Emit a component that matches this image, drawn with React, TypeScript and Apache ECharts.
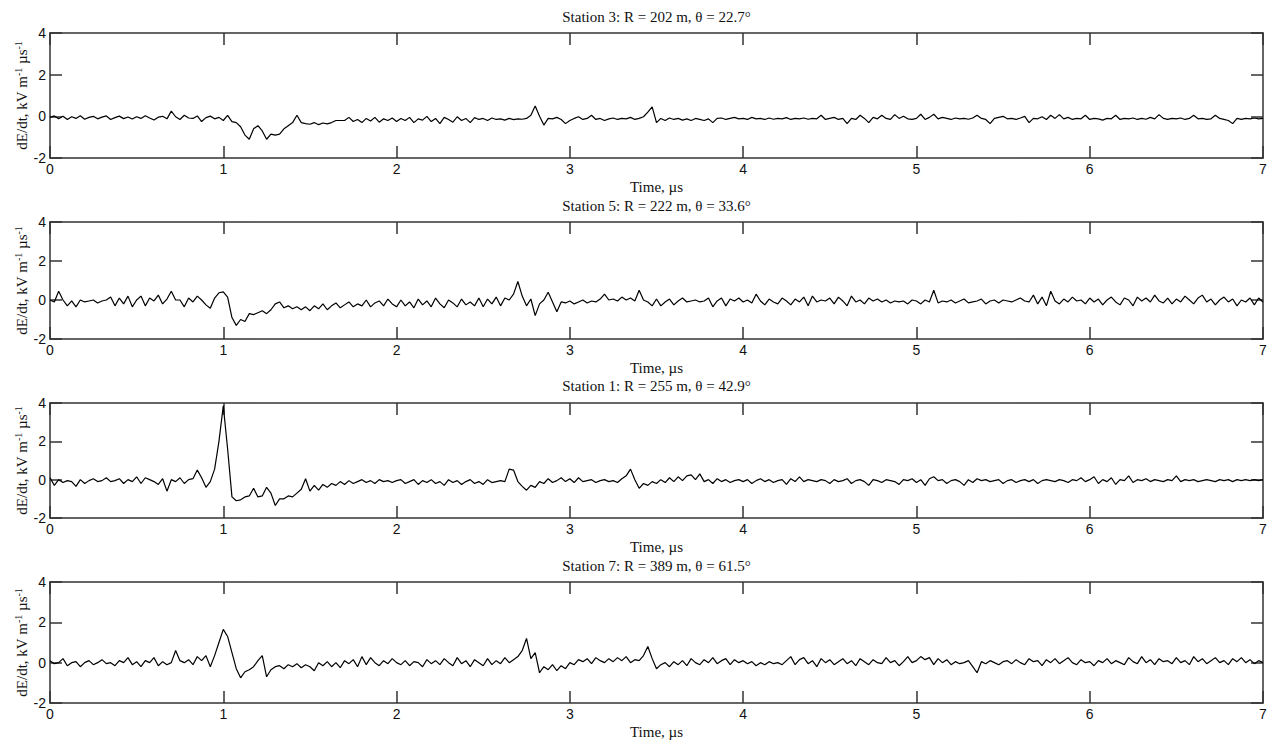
import React, { useEffect, useRef } from "react";
import * as echarts from "echarts";

// Sampling step of the transcribed traces (µs)
const TIME_STEP = 0.025;
const X_TICKS = [0, 1, 2, 3, 4, 5, 6, 7];
const Y_TICKS = [-2, 0, 2, 4];
const X_LABEL = "Time, µs";
const TITLES = [
  "Station 3: R = 202 m, θ = 22.7°",
  "Station 5: R = 222 m, θ = 33.6°",
  "Station 1: R = 255 m, θ = 42.9°",
  "Station 7: R = 389 m, θ = 61.5°",
];

// dE/dt, kV/m/µs — one row per 0.5 µs
const STATION3 = [
  -0.05, 0.02, -0.12, 0.0, -0.15, -0.02, -0.1, 0.03, -0.14, -0.05, 0.0, -0.12, -0.04, 0.02, -0.15, -0.06, 0.01, -0.11, -0.03, -0.13,
  -0.02, -0.1, 0.03, -0.08, -0.18, -0.04, 0.0, -0.12, 0.25, -0.02, -0.15, 0.05, -0.08, -0.1, 0.02, -0.25, -0.06, 0.01, -0.12, -0.05,
  -0.2, 0.05, -0.25, -0.3, -0.5, -0.9, -1.1, -0.6, -0.45, -0.7, -1.1, -0.85, -0.9, -0.85, -0.6, -0.45, -0.3, 0.05, -0.3, -0.35,
  -0.38, -0.3, -0.4, -0.32, -0.36, -0.3, -0.2, -0.2, -0.2, -0.05, -0.25, -0.15, -0.3, -0.1, -0.22, -0.05, -0.28, -0.12, -0.2, -0.08,
  -0.25, -0.1, -0.2, -0.05, -0.3, -0.12, -0.18, 0.0, -0.25, -0.1, -0.35, -0.05, -0.15, -0.28, -0.02, -0.2, -0.1, -0.3, -0.06, -0.15,
  -0.1, -0.2, -0.08, -0.15, -0.12, -0.18, -0.1, -0.16, -0.12, -0.14, -0.1, 0.05, 0.5, 0.0, -0.42, -0.1, -0.12, -0.05, -0.15, -0.35,
  -0.2, -0.1, -0.02, -0.15, -0.1, 0.05, -0.15, -0.1, -0.2, -0.12, -0.08, -0.15, -0.1, -0.12, -0.05, -0.15, -0.1, -0.02, 0.2, 0.45,
  -0.3, -0.1, -0.2, -0.08, -0.15, -0.1, -0.18, -0.12, -0.2, -0.1, -0.15, -0.2, -0.12, -0.3, -0.1, -0.08, -0.15, -0.1, -0.05, -0.12,
  -0.1, -0.15, -0.05, -0.12, -0.1, -0.15, -0.08, -0.14, -0.1, -0.12, -0.06, -0.15, -0.1, -0.12, -0.08, -0.14, -0.1, -0.12, 0.05, -0.15,
  -0.1, -0.05, -0.15, -0.1, -0.35, -0.1, -0.15, 0.05, -0.1, -0.3, -0.05, -0.12, 0.05, -0.1, -0.15, 0.08, -0.1, 0.0, -0.12, -0.15,
  -0.1, 0.1, -0.15, -0.05, 0.1, -0.12, -0.05, -0.1, -0.15, -0.08, -0.12, -0.1, -0.14, -0.08, 0.05, -0.1, -0.15, -0.35, -0.1, -0.05,
  0.0, -0.12, -0.1, -0.15, -0.08, 0.0, -0.3, -0.1, -0.12, -0.02, -0.15, 0.05, -0.1, 0.08, -0.12, -0.05, -0.15, -0.1, -0.12, 0.05,
  -0.15, -0.1, -0.12, -0.18, -0.1, -0.12, 0.05, -0.15, -0.1, -0.12, -0.08, -0.15, -0.1, -0.14, -0.05, -0.12, 0.08, -0.1, -0.15, -0.1,
  -0.12, -0.08, -0.15, -0.1, 0.05, -0.12, -0.1, -0.15, -0.12, 0.05, -0.1, -0.15, -0.2, -0.35, -0.1, -0.15, -0.1, -0.12, -0.08, -0.12,
  -0.1,
];

const STATION5 = [
  0.0, -0.1, 0.45, 0.0, -0.3, -0.05, -0.35, 0.0, -0.1, -0.05, 0.0, -0.15, -0.05, 0.0, 0.15, -0.3, 0.1, -0.2, 0.2, -0.35,
  0.0, 0.2, -0.3, 0.1, -0.05, 0.25, -0.2, 0.05, 0.45, 0.0, 0.0, -0.35, 0.1, -0.1, 0.2, 0.0, -0.25, -0.42, 0.1, 0.37,
  0.42, 0.15, -0.9, -1.3, -1.0, -1.1, -0.7, -0.75, -0.65, -0.55, -0.7, -0.5, -0.2, -0.1, -0.4, -0.3, -0.45, -0.35, -0.5, -0.35,
  -0.55, -0.3, -0.45, -0.2, -0.5, -0.3, -0.15, -0.4, -0.25, -0.1, -0.35, -0.2, -0.3, 0.0, -0.35, -0.15, -0.05, -0.3, 0.05, -0.2,
  -0.35, 0.0, -0.3, -0.1, -0.4, 0.05, -0.25, -0.05, -0.35, 0.1, -0.2, -0.4, 0.0, -0.15, -0.35, 0.05, -0.25, -0.1, -0.3, 0.1,
  -0.35, 0.05, -0.2, 0.15, -0.3, 0.1, 0.0, 0.3, 0.95, 0.2, -0.3, 0.05, -0.8, -0.2, 0.0, 0.4, -0.1, -0.6, -0.1, -0.15,
  -0.05, -0.2, -0.1, 0.0, -0.15, -0.05, -0.1, 0.05, 0.3, 0.0, 0.05, -0.05, 0.15, 0.0, 0.1, -0.05, 0.5, 0.0, -0.1, -0.3,
  0.05, -0.3, -0.1, 0.05, -0.25, -0.05, 0.1, -0.1, -0.05, 0.0, -0.1, -0.05, 0.1, -0.35, -0.05, 0.1, -0.3, 0.05, -0.05, 0.1,
  -0.1, 0.0, -0.15, 0.3, -0.05, -0.25, 0.05, -0.1, -0.2, 0.1, -0.05, -0.25, 0.05, -0.1, 0.15, -0.3, 0.2, -0.1, 0.0, -0.05,
  0.1, -0.2, 0.15, -0.05, -0.3, 0.2, -0.1, 0.0, -0.2, 0.1, -0.05, 0.05, -0.1, 0.0, -0.15, -0.05, -0.1, -0.05, -0.2, 0.0,
  -0.05, -0.2, 0.0, -0.1, 0.5, -0.15, -0.05, -0.1, 0.0, -0.15, -0.05, 0.05, -0.15, -0.1, -0.05, 0.05, -0.2, -0.05, 0.0, -0.15,
  0.0, -0.05, -0.1, 0.0, 0.1, -0.05, -0.1, 0.25, -0.2, 0.15, -0.3, 0.45, -0.05, -0.2, 0.05, -0.1, 0.15, -0.05, 0.0, -0.2,
  0.1, -0.1, 0.05, -0.25, 0.0, 0.15, -0.1, -0.25, 0.1, 0.0, -0.3, 0.15, -0.05, 0.1, -0.1, 0.25, -0.05, -0.15, 0.1, -0.2,
  0.05, -0.1, 0.2, 0.0, -0.2, 0.1, 0.25, -0.1, 0.05, -0.25, 0.0, 0.15, -0.1, 0.05, -0.3, 0.0, -0.1, 0.1, -0.25, 0.1,
  -0.1,
];

const STATION1 = [
  0.1, -0.3, 0.0, -0.15, -0.05, -0.1, -0.35, 0.0, -0.2, -0.05, 0.05, -0.1, -0.05, 0.1, -0.1, -0.05, 0.05, -0.2, 0.0, -0.1,
  0.15, -0.2, 0.1, 0.0, -0.1, -0.25, 0.05, -0.6, 0.0, -0.1, 0.1, -0.2, 0.0, 0.05, 0.5, 0.1, -0.4, -0.1, 0.55, 2.0,
  3.85, 1.6, -0.9, -1.1, -1.05, -0.9, -0.85, -0.45, -0.9, -0.85, -0.4, -0.7, -1.35, -1.0, -1.0, -0.85, -0.9, -0.7, -0.5, 0.05,
  -0.6, -0.3, -0.55, -0.25, -0.4, -0.2, -0.3, -0.1, -0.25, -0.05, -0.2, -0.1, 0.0, -0.15, -0.05, -0.2, 0.0, -0.1, -0.05, -0.15,
  -0.05, 0.0, -0.2, -0.1, 0.0, -0.25, -0.05, -0.15, 0.0, -0.2, -0.1, -0.3, 0.0, -0.15, -0.05, -0.25, -0.1, 0.0, -0.2, -0.1,
  -0.25, 0.0, -0.15, -0.1, -0.05, -0.1, 0.55, 0.5, -0.1, -0.35, -0.55, -0.3, -0.4, -0.1, -0.2, 0.05, -0.15, -0.05, 0.1, -0.1,
  0.05, -0.15, 0.1, -0.1, -0.05, 0.0, -0.15, -0.05, 0.0, -0.1, -0.05, -0.15, 0.05, 0.2, 0.55, 0.0, -0.45, -0.2, -0.3, -0.1,
  -0.2, 0.0, -0.15, 0.1, -0.1, 0.15, -0.05, 0.2, 0.25, 0.0, 0.3, -0.1, 0.0, -0.2, 0.05, -0.1, 0.0, -0.15, -0.05, 0.0,
  -0.1, 0.0, -0.2, -0.05, 0.05, -0.1, 0.0, -0.15, -0.05, 0.0, -0.25, 0.05, -0.1, 0.15, -0.1, 0.0, -0.05, -0.1, 0.0, -0.05,
  -0.2, 0.0, -0.1, -0.05, 0.05, -0.2, -0.05, 0.0, -0.1, -0.3, 0.0, -0.05, -0.15, 0.0, -0.05, -0.1, -0.25, 0.0, -0.05, 0.05,
  -0.15, 0.0, -0.3, 0.05, 0.15, -0.05, 0.0, -0.2, -0.05, 0.0, -0.1, -0.3, 0.0, -0.15, 0.05, -0.05, 0.0, -0.1, -0.05, 0.0,
  -0.2, -0.05, 0.0, -0.15, -0.05, 0.0, -0.1, 0.0, -0.2, -0.05, 0.0, -0.05, -0.1, 0.0, -0.05, -0.15, 0.0, -0.05, 0.1, -0.1,
  0.0, 0.15, -0.2, 0.0, -0.1, 0.1, -0.25, 0.0, -0.05, 0.2, -0.15, 0.0, -0.05, 0.05, -0.1, 0.0, -0.05, -0.1, 0.0, -0.05,
  0.2, -0.1, 0.0, -0.05, 0.0, -0.1, -0.05, 0.0, -0.05, -0.1, 0.0, -0.05, 0.0, -0.1, 0.0, -0.05, 0.0, -0.05, 0.0, -0.05,
  0.0,
];

const STATION7 = [
  0.1, -0.05, 0.0, 0.2, -0.15, 0.0, 0.05, -0.2, 0.0, 0.1, -0.1, 0.0, 0.15, -0.05, 0.0, -0.15, 0.1, 0.0, 0.25, -0.1,
  0.05, -0.2, 0.1, 0.0, 0.25, -0.15, 0.05, -0.1, 0.0, 0.6, 0.1, 0.0, 0.15, -0.1, 0.3, 0.1, 0.35, -0.2, 0.35, 1.0,
  1.65, 1.3, 0.5, -0.3, -0.75, -0.45, -0.35, -0.2, 0.1, 0.35, -0.7, -0.35, -0.2, -0.15, -0.3, -0.1, -0.2, -0.05, -0.25, -0.1,
  -0.2, -0.4, 0.0, -0.15, 0.05, -0.2, 0.0, -0.25, 0.1, -0.05, 0.15, -0.2, 0.3, -0.1, 0.25, 0.0, -0.15, 0.1, -0.05, 0.2,
  0.0, -0.1, 0.1, -0.15, 0.05, 0.0, -0.2, 0.15, -0.05, 0.1, -0.1, 0.2, 0.0, -0.15, 0.25, -0.05, 0.1, -0.2, 0.15, 0.0,
  -0.15, 0.2, -0.1, 0.1, -0.05, 0.25, 0.0, 0.15, 0.3, 0.6, 1.2, 0.2, 0.5, -0.5, -0.2, -0.35, -0.1, -0.4, -0.15, -0.3,
  0.0, -0.1, 0.15, 0.05, 0.2, -0.05, 0.25, 0.1, 0.0, 0.2, 0.05, 0.25, 0.1, 0.3, 0.0, 0.15, 0.1, 0.35, 0.8, 0.2,
  -0.3, -0.1, 0.0, -0.2, 0.05, -0.1, 0.1, -0.15, 0.2, 0.0, -0.1, 0.15, 0.0, 0.25, -0.05, 0.1, 0.2, -0.1, 0.15, 0.0,
  0.1, -0.05, 0.05, -0.15, 0.0, -0.1, 0.05, -0.05, 0.0, -0.1, 0.1, 0.3, -0.1, 0.15, 0.25, -0.05, 0.1, -0.2, 0.2, 0.0,
  0.15, -0.1, 0.05, 0.2, -0.05, 0.1, -0.15, 0.2, 0.05, -0.1, 0.15, 0.0, -0.05, 0.25, 0.0, 0.1, -0.15, 0.05, 0.3, 0.0,
  0.1, 0.3, 0.15, 0.25, -0.1, 0.2, 0.0, 0.15, -0.1, 0.05, -0.05, 0.0, 0.1, -0.2, -0.5, 0.05, -0.05, 0.1, 0.0, -0.1,
  0.05, 0.1, -0.05, 0.15, 0.0, -0.1, 0.2, 0.05, 0.1, -0.15, 0.15, 0.0, 0.2, -0.05, 0.1, 0.25, 0.0, -0.1, 0.15, 0.0,
  0.05, -0.15, 0.1, 0.0, 0.2, -0.05, 0.1, 0.0, -0.1, 0.25, 0.05, -0.05, 0.3, 0.0, 0.15, -0.1, 0.2, 0.05, 0.1, -0.05,
  0.25, 0.0, 0.1, -0.1, 0.3, 0.05, 0.2, -0.05, 0.1, 0.25, 0.0, 0.1, -0.1, 0.2, 0.05, 0.25, 0.0, 0.15, -0.05, 0.1,
  0.0,
];

const SERIES = [STATION3, STATION5, STATION1, STATION7];

// Layout (pixels)
const PANELS = [
  { top: 33, height: 125, titleY: 17 },
  { top: 222, height: 117, titleY: 206 },
  { top: 403, height: 115, titleY: 386 },
  { top: 582, height: 121, titleY: 566 },
];
const LEFT = 50;
const RIGHT = 17;
const AXIS_COLOR = "#333";
const TEXT_COLOR = "#111";
const SERIF = "'Liberation Serif', 'Times New Roman', serif";
const SANS = "'Liberation Sans', Arial, sans-serif";

export default function App() {
  const ref = useRef<HTMLDivElement>(null);

  useEffect(() => {
    if (!ref.current) return;
    const chart = echarts.init(ref.current, undefined, { renderer: "svg" });

    const axisLine = { show: true, onZero: false, lineStyle: { color: AXIS_COLOR, width: 1.5 } };
    const axisTick = { show: true, inside: true, length: 12, lineStyle: { color: AXIS_COLOR, width: 1.5 } };

    const xMin = X_TICKS[0];
    const xMax = X_TICKS[X_TICKS.length - 1];
    const yMin = Y_TICKS[0];
    const yMax = Y_TICKS[Y_TICKS.length - 1];

    const grids = PANELS.map((p) => ({ left: LEFT, right: RIGHT, top: p.top, height: p.height, containLabel: false }));

    const xAxes: any[] = [];
    const yAxes: any[] = [];
    PANELS.forEach((_, i) => {
      xAxes.push({
        type: "value",
        gridIndex: i,
        position: "bottom",
        min: xMin,
        max: xMax,
        interval: 1,
        axisLine,
        axisTick,
        splitLine: { show: false },
        axisLabel: { show: true, margin: 4, color: TEXT_COLOR, fontFamily: SANS, fontSize: 14, showMinLabel: true, showMaxLabel: true },
        name: X_LABEL,
        nameLocation: "middle",
        nameGap: 21,
        nameMoveOverlap: false,
        nameTextStyle: { fontFamily: SERIF, fontSize: 15, color: TEXT_COLOR },
      });
      xAxes.push({
        type: "value",
        gridIndex: i,
        position: "top",
        min: xMin,
        max: xMax,
        interval: 1,
        axisLine,
        axisTick,
        splitLine: { show: false },
        axisLabel: { show: false },
      });
      yAxes.push({
        type: "value",
        gridIndex: i,
        position: "left",
        min: yMin,
        max: yMax,
        interval: 2,
        axisLine,
        axisTick,
        splitLine: { show: false },
        axisLabel: { show: true, margin: 4, color: TEXT_COLOR, fontFamily: SANS, fontSize: 14 },
        name: "{a|dE/dt, kV m}{s|-1}{a| µs}{s|-1}",
        nameLocation: "middle",
        nameGap: 19,
        nameMoveOverlap: false,
        nameTextStyle: {
          color: TEXT_COLOR,
          rich: {
            a: { fontFamily: SERIF, fontSize: 15, color: TEXT_COLOR, lineHeight: 18 },
            s: { fontFamily: SERIF, fontSize: 10, color: TEXT_COLOR, lineHeight: 10, verticalAlign: "top" },
          },
        },
      });
      yAxes.push({
        type: "value",
        gridIndex: i,
        position: "right",
        min: yMin,
        max: yMax,
        interval: 2,
        axisLine,
        axisTick,
        splitLine: { show: false },
        axisLabel: { show: false },
      });
    });

    const series = SERIES.map((vals, i) => ({
      type: "line",
      xAxisIndex: 2 * i,
      yAxisIndex: 2 * i,
      data: vals.map((v, k) => [k * TIME_STEP, v]),
      showSymbol: false,
      symbol: "none",
      silent: true,
      lineStyle: { color: "#000", width: 1.2 },
    }));

    const centerX = LEFT + (1280 - LEFT - RIGHT) / 2;
    const graphic = PANELS.map((p, i) => ({
      type: "text",
      x: centerX,
      y: p.titleY,
      silent: true,
      style: {
        text: TITLES[i],
        fill: TEXT_COLOR,
        font: `15px ${SERIF}`,
        textAlign: "center",
        textVerticalAlign: "middle",
      },
    }));

    chart.setOption({
      animation: false,
      backgroundColor: "#ffffff",
      grid: grids,
      xAxis: xAxes,
      yAxis: yAxes,
      series,
      graphic,
    });

    return () => chart.dispose();
  }, []);

  return (
    <div
      ref={ref}
      style={{ position: "fixed", left: 0, top: 0, width: 1280, height: 742, background: "#fff" }}
    />
  );
}
